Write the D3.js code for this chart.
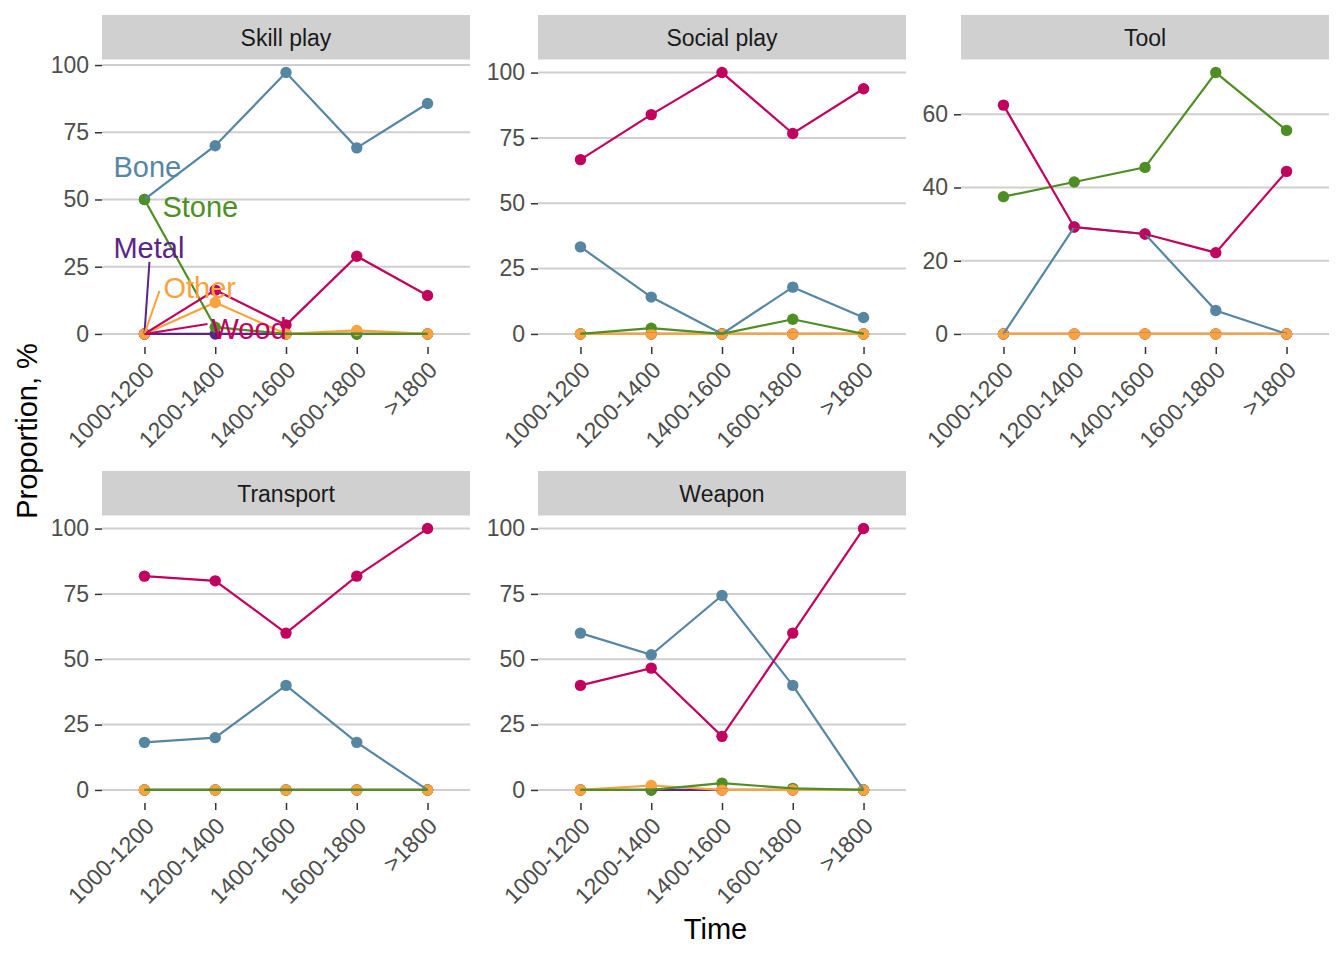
<!DOCTYPE html>
<html><head><meta charset="utf-8">
<script src="https://cdn.jsdelivr.net/npm/d3@7"></script>
<style>
body{margin:0;background:#fff}
text{font-family:"Liberation Sans",Arial,Helvetica,sans-serif}
</style>
</head><body>
<svg id="chart" width="1344" height="960"></svg>
<script>
// ---- data ----
const periods = ["1000-1200","1200-1400","1400-1600","1600-1800",">1800"];
const materials = ["Bone","Metal","Other","Stone","Wood"];
const materialColors = ["#5686a2","#5b2489","#f9a33e","#4f8e24","#c2005e"];
const facetNames = ["Skill play","Social play","Tool","Transport","Weapon"];
// each facet: one row per material (Bone, Metal, Other, Stone, Wood), one value per period
const skillPlay  = [[50,70,97.2,69.2,85.7],[0,0,0,0,0],[0,11.7,0,1.3,0],[50,2.5,0,0,0],[0,16.3,3.3,28.9,14.3]];
const socialPlay = [[33.3,14.1,0,17.9,6.3],[0,0,0,0,0],[0,0,0,0,0],[0,2.2,0,5.6,0],[66.7,83.9,100,76.7,93.8]];
const tool       = [[0,29.2,27.3,6.4,0],[0,0,0,0,0],[0,0,0,0,0],[37.5,41.5,45.5,71.4,55.6],[62.5,29.2,27.3,22.2,44.4]];
const transport  = [[18.2,20,40,18.2,0],[0,0,0,0,0],[0,0,0,0,0],[0,0,0,0,0],[81.8,80,60,81.8,100]];
const weapon     = [[60,51.7,74.4,40,0],[0,0,0,0,0],[0,1.7,0,0,0],[0,0,2.6,0.6,0],[40,46.6,20.5,60,100]];
const facetValues = [skillPlay, socialPlay, tool, transport, weapon];
const ticksHundred = [0,25,50,75,100];
const ticksTool = [0,20,40,60];
const facetTicks = [ticksHundred, ticksHundred, ticksTool, ticksHundred, ticksHundred];

// ---- layout ----
const colLeft = [102, 538, 961];
const rowTop = [15, 471];
const panelW = 368, stripH = 44.5, panelH = 287.5;
const lineOrder = [0,1,2,3,4];     // Bone, Metal, Other, Stone, Wood
const pointOrder = [0,1,3,4,2];    // Other points drawn last
// direct labels in the first panel (pixel offsets from the series' first point)
const labelLayout = [
  {m:0, dx:-31, dy:-22, seg:null},
  {m:3, dx:18, dy:18, seg:null},
  {m:1, dx:-31, dy:-76, seg:[5,-72]},
  {m:2, dx:19, dy:-36, seg:[15,-43]},
  {m:4, dx:67, dy:5, seg:[63,-10]}
];

const svg = d3.select("#chart");
const font = "'Liberation Sans',Arial,sans-serif";
const tickFont = "23px";

facetNames.forEach((name, fi) => {
  const col = fi % 3, row = Math.floor(fi / 3);
  const left = colLeft[col], top = rowTop[row] + stripH, bottom = top + panelH;
  const vals = facetValues[fi];
  const vmax = d3.max(vals.flat());
  const y = d3.scaleLinear().domain([-0.05*vmax, 1.05*vmax]).range([bottom, top]);
  const x = d3.scalePoint().domain(periods).range([left, left+panelW]).padding(0.6);
  const g = svg.append("g");

  // strip
  g.append("rect").attr("x", left).attr("y", rowTop[row]).attr("width", panelW).attr("height", stripH)
    .attr("fill", "#d0d0d0");
  g.append("text").attr("x", left+panelW/2).attr("y", rowTop[row]+stripH/2).attr("dy","0.36em")
    .attr("text-anchor","middle").attr("font-size",tickFont).attr("fill","#1a1a1a").text(name);

  // grid
  g.selectAll(".grid").data(facetTicks[fi]).enter().append("line")
    .attr("x1", left).attr("x2", left+panelW).attr("y1", d=>y(d)).attr("y2", d=>y(d))
    .attr("stroke","#cfcfcf").attr("stroke-width",2);

  // y axis
  const ya = g.append("g").attr("transform",`translate(${left},0)`)
    .call(d3.axisLeft(y).tickValues(facetTicks[fi]).tickSize(7).tickPadding(6));
  ya.select(".domain").remove();
  ya.selectAll(".tick line").attr("stroke","#333").attr("stroke-width",1.5);
  ya.selectAll(".tick text").attr("fill","#4d4d4d").attr("font-size",tickFont).attr("font-family",font);

  // x axis
  const xa = g.append("g").attr("transform",`translate(0,${bottom})`)
    .call(d3.axisBottom(x).tickSize(7).tickPadding(0));
  xa.select(".domain").remove();
  xa.selectAll(".tick line").attr("stroke","#333").attr("stroke-width",1.5);
  xa.selectAll(".tick text").attr("fill","#4d4d4d").attr("font-size",tickFont).attr("font-family",font)
    .attr("text-anchor","end").attr("y",0).attr("x",0).attr("dy","0.71em")
    .attr("transform","translate(-1,13) rotate(-45)");

  // points
  pointOrder.forEach(mi => {
    g.selectAll(null).data(vals[mi]).enter().append("circle")
      .attr("cx",(d,i)=>x(periods[i])).attr("cy",d=>y(d)).attr("r",5.7)
      .attr("fill", materialColors[mi]);
  });
  // lines
  const line = d3.line().x((d,i)=>x(periods[i])).y(d=>y(d));
  lineOrder.forEach(mi => {
    g.append("path").datum(vals[mi]).attr("d", line).attr("fill","none")
      .attr("stroke", materialColors[mi]).attr("stroke-width",2.2);
  });

  if (fi === 0) {
    labelLayout.forEach(L => {
      const px = x(periods[0]), py = y(vals[L.m][0]);
      if (L.seg) {
        g.append("line").attr("x1",px).attr("y1",py).attr("x2",px+L.seg[0]).attr("y2",py+L.seg[1])
          .attr("stroke",materialColors[L.m]).attr("stroke-width",2);
      }
      g.append("text").attr("x",px+L.dx).attr("y",py+L.dy).attr("font-size","29px")
        .attr("fill",materialColors[L.m]).text(materials[L.m]);
    });
  }
});

// axis titles
svg.append("text").attr("transform","translate(37,431) rotate(-90)").attr("text-anchor","middle")
  .attr("font-size","29px").attr("fill","#000").text("Proportion, %");
svg.append("text").attr("x",715.5).attr("y",939).attr("text-anchor","middle")
  .attr("font-size","29px").attr("fill","#000").text("Time");
</script>
</body></html>
